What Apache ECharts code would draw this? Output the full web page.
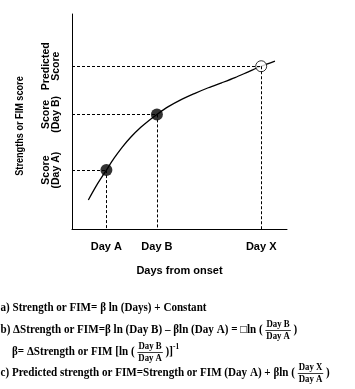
<!DOCTYPE html>
<html><head><meta charset="utf-8">
<script src="https://cdn.jsdelivr.net/npm/echarts@6/dist/echarts.min.js"></script>
<style>html,body{margin:0;padding:0;background:#fff}#c{width:355px;height:389px}</style>
</head><body><div id="c"></div>
<script>
// ---- data ----
const dayLabels = ['Day A', 'Day B', 'Day X'];
const dayValues = [16, 39.5, 88];
const scoreLabels = ['Score\n(Day A)', 'Score\n(Day B)', 'Predicted\nScore'];
const scoreValues = [27.4, 53.3, 75.7];
const curveX = [7.6, 11.5, 16, 19.5, 23.3, 27.3, 32.0, 35.8, 39.5, 44.8, 51.0, 57.2, 63.4, 69.6, 75.8, 82.0, 88, 94.4];
const curveY = [13.5, 20.4, 27.4, 32.8, 38.0, 42.7, 47.3, 50.5, 53.3, 56.9, 60.3, 63.1, 65.7, 68.0, 70.4, 73.1, 75.7, 78.1];
const xTitle = 'Days from onset';
const yTitle = 'Strengths or FIM score';
const formulaA = ['a) Strength or FIM= \u03b2 ln (Days) + Constant'];
const formulaB = ['b) \u0394Strength or FIM=\u03b2 ln (Day B) \u2013 \u03b2ln (Day A) = \u25a1ln ( ', {num: 'Day B', den: 'Day A'}, ' )'];
const formulaBeta = ['\u03b2= \u0394Strength or FIM [ln ( ', {num: 'Day B', den: 'Day A'}, ' )]', {sup: '-1'}];
const formulaC = ['c) Predicted strength or FIM=Strength or FIM (Day A) + \u03b2ln ( ', {num: 'Day X', den: 'Day A'}, ' )'];

const SANS = '"Liberation Sans Narrow", "Liberation Sans", Arial, sans-serif';
const SERIF = '"Liberation Serif", "Times New Roman", serif';

const curveData = curveX.map((x, i) => [x, curveY[i]]);
const known = [0, 1].map(i => [dayValues[i], scoreValues[i]]);
const predicted = [[dayValues[2], scoreValues[2]]];

const markData = [];
for (let i = 0; i < 3; i++) {
  markData.push([{coord: [0, scoreValues[i]]}, {coord: [dayValues[i], scoreValues[i]]}]);
  markData.push([{coord: [dayValues[i], scoreValues[i]]}, {coord: [dayValues[i], 0]}]);
}

// ---- formula text builder ----
const mctx = document.createElement('canvas').getContext('2d');
const F = 12, FF = 9.5, FS = 8;
function tw(t, size) { mctx.font = 'bold ' + size + 'px ' + SERIF; return mctx.measureText(t).width; }
function txt(x, y, t, size, align, valign) {
  return {type: 'text', x: x, y: y, style: {text: t, font: 'bold ' + size + 'px ' + SERIF, fill: '#000',
    textAlign: align, align: align, textVerticalAlign: valign, verticalAlign: valign}};
}
function formulaLine(segs, x0, y0, sx) {
  let x = 0; const children = [];
  segs.forEach(s => {
    if (typeof s === 'string') {
      children.push(txt(x, 0, s, F, 'left', 'middle'));
      x += tw(s, F);
    } else if (s.num) {
      const w = Math.max(tw(s.num, FF), tw(s.den, FF)) + 2;
      children.push(txt(x + w / 2, -0.5, s.num, FF, 'center', 'bottom'));
      children.push(txt(x + w / 2, 1.5, s.den, FF, 'center', 'top'));
      children.push({type: 'line', shape: {x1: x, y1: 0.5, x2: x + w, y2: 0.5}, style: {stroke: '#000', lineWidth: 0.8}});
      x += w;
    } else if (s.sup) {
      children.push(txt(x, -5, s.sup, FS, 'left', 'middle'));
      x += tw(s.sup, FS);
    }
  });
  return {type: 'group', x: x0, y: y0, scaleX: sx, children: children};
}
const S = 206 / tw(formulaA[0], F);

const chart = echarts.init(document.getElementById('c'), null, {renderer: 'canvas'});
chart.setOption({
  animation: false,
  backgroundColor: '#fff',
  grid: {left: 72, top: 14, width: 215, height: 215, containLabel: false},
  xAxis: {
    type: 'value', min: 0, max: 100,
    name: xTitle, nameLocation: 'middle', nameGap: 36,
    nameTextStyle: {fontFamily: SANS, fontWeight: 'bold', fontSize: 11, color: '#000'},
    axisLine: {show: true, lineStyle: {color: '#000', width: 1}},
    axisTick: {show: false},
    splitLine: {show: false},
    axisLabel: {
      customValues: dayValues, margin: 12,
      formatter: v => dayLabels[dayValues.indexOf(v)] || '',
      fontFamily: SANS, fontWeight: 'bold', fontSize: 11, color: '#000'
    }
  },
  yAxis: {
    type: 'value', min: 0, max: 100,
    axisLine: {show: true, lineStyle: {color: '#000', width: 1}},
    axisTick: {show: false},
    splitLine: {show: false},
    axisLabel: {
      customValues: scoreValues, margin: 11, rotate: 90, lineHeight: 10,
      formatter: v => scoreLabels[scoreValues.indexOf(v)] || '',
      fontFamily: SANS, fontWeight: 'bold', fontSize: 10.5, color: '#000'
    }
  },
  series: [
    {
      type: 'line', data: curveData, smooth: 0.3, symbol: 'none', z: 2,
      lineStyle: {color: '#000', width: 1.3},
      markLine: {
        silent: true, symbol: 'none', animation: false,
        label: {show: false},
        lineStyle: {color: '#000', width: 1, type: [3, 2]},
        emphasis: {disabled: true},
        data: markData
      }
    },
    {type: 'scatter', data: known, symbol: 'circle', symbolSize: 12, z: 4,
      itemStyle: {color: '#000'}},
    {type: 'scatter', data: predicted, symbol: 'circle', symbolSize: 11, z: 4,
      itemStyle: {color: '#fff', borderColor: '#000', borderWidth: 1}}
  ],
  graphic: [
    {type: 'text', x: 20, y: 126, rotation: Math.PI / 2, scaleX: 0.83,
      style: {text: yTitle, font: 'bold 11px ' + SANS, fill: '#000', textAlign: 'center', align: 'center',
        textVerticalAlign: 'middle', verticalAlign: 'middle'}},
    formulaLine(formulaA, 0.5, 308, S),
    formulaLine(formulaB, 0.5, 330, S),
    formulaLine(formulaBeta, 12, 352, S),
    formulaLine(formulaC, 0.5, 373, S)
  ]
});
</script>
</body></html>
